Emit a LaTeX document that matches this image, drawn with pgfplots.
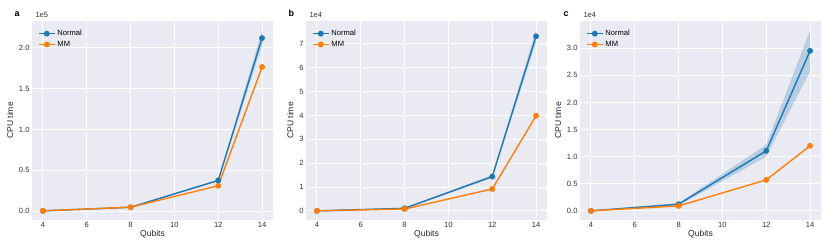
\documentclass[border=0pt]{standalone}
\usepackage{fontspec}
\setmainfont{Liberation Sans}
\usepackage{pgfplots}
\pgfplotsset{compat=1.18}
\definecolor{sbbg}{HTML}{EAEAF2}
\definecolor{tblue}{HTML}{1F77B4}
\definecolor{torange}{HTML}{FF7F0E}
\pgfplotsset{
  sbstyle/.style={
    scale only axis, width=241bp, height=199bp,
    axis background/.style={fill=sbbg},
    axis line style={draw=none},
    grid=major, major grid style={white, line width=1bp},
    tick style={draw=none},
    xmin=3.5, xmax=14.5,
    xtick={4,6,8,10,12,14},
    xlabel={Qubits}, ylabel={CPU time},
    tick label style={font=\fontsize{7.6}{8}\selectfont, text=black!80},
    label style={font=\fontsize{8.6}{9}\selectfont, text=black!85},
    /pgf/number format/assume math mode=true,
    yticklabel style={/pgf/number format/fixed, /pgf/number format/fixed zerofill, /pgf/number format/precision=1},
    scaled y ticks=false,
    xlabel style={yshift=4bp},
    ylabel style={yshift=-1bp},
    xticklabel style={yshift=1bp},
    yticklabel style={xshift=1bp},
    legend style={draw=none, fill=none, at={(0.012,0.975)}, anchor=north west,
      font=\fontsize{7.6}{8}\selectfont, row sep=0bp},
    legend cell align=left,
    legend image code/.code={
      \draw[#1, mark repeat=2, mark phase=2] plot coordinates {(0bp,0bp) (8bp,0bp) (16bp,0bp)};},
  },
  nline/.style={tblue, line width=1.4bp, mark=*, mark size=2.2bp, mark options={solid, fill=tblue}},
  mline/.style={torange, line width=1.4bp, mark=*, mark size=2.2bp, mark options={solid, fill=torange}},
}
\begin{document}
\begin{tikzpicture}[x=1bp,y=1bp]
\path (0,0) rectangle (830,249);
% panel a
\begin{axis}[sbstyle, at={(32bp,29bp)}, anchor=south west,
  ymin=-0.11, ymax=2.33, ytick={0,0.5,1.0,1.5,2.0}]
\addplot[draw=none, fill=tblue, fill opacity=0.25, forget plot] coordinates {
 (4,0.001) (8,0.052) (12,0.385) (14,2.21) (14,2.03) (12,0.365) (8,0.040) (4,0.000)} -- cycle;
\addplot[nline] coordinates {(4,0.002) (8,0.046) (12,0.375) (14,2.12)};
\addplot[mline] coordinates {(4,0.002) (8,0.047) (12,0.31) (14,1.766)};
\legend{Normal,MM}
\end{axis}
% panel b
\begin{axis}[sbstyle, at={(306bp,29bp)}, anchor=south west,
  ymin=-0.38, ymax=7.96, ytick={0,1,...,7},
  yticklabel style={/pgf/number format/fixed zerofill=false, /pgf/number format/precision=0}]
\addplot[draw=none, fill=tblue, fill opacity=0.25, forget plot] coordinates {
 (4,0.01) (8,0.13) (12,1.50) (14,7.58) (14,7.08) (12,1.38) (8,0.09) (4,0.00)} -- cycle;
\addplot[nline] coordinates {(4,0.003) (8,0.11) (12,1.44) (14,7.32)};
\addplot[mline] coordinates {(4,0.003) (8,0.08) (12,0.92) (14,3.99)};
\legend{Normal,MM}
\end{axis}
% panel c
\begin{axis}[sbstyle, at={(580bp,29bp)}, anchor=south west,
  ymin=-0.167, ymax=3.5, ytick={0,0.5,1.0,1.5,2.0,2.5,3.0}]
\addplot[draw=none, fill=tblue, fill opacity=0.25, forget plot] coordinates {
 (4,0.003) (8,0.145) (12,1.22) (14,3.33) (14,2.57) (12,1.00) (8,0.10) (4,0.000)} -- cycle;
\addplot[nline] coordinates {(4,0.002) (8,0.124) (12,1.107) (14,2.95)};
\addplot[mline] coordinates {(4,0.002) (8,0.092) (12,0.572) (14,1.20)};
\legend{Normal,MM}
\end{axis}
% multipliers and panel labels
\node[font=\fontsize{7.6}{8}\selectfont, text=black!80, anchor=base west] at (32,232) {1e5};
\node[font=\fontsize{7.6}{8}\selectfont, text=black!80, anchor=base west] at (306,232) {1e4};
\node[font=\fontsize{7.6}{8}\selectfont, text=black!80, anchor=base west] at (580,232) {1e4};
\node[font=\fontsize{9}{10}\selectfont\bfseries, anchor=base west] at (11,233) {a};
\node[font=\fontsize{9}{10}\selectfont\bfseries, anchor=base west] at (285,233) {b};
\node[font=\fontsize{9}{10}\selectfont\bfseries, anchor=base west] at (560,233) {c};
\end{tikzpicture}
\end{document}
